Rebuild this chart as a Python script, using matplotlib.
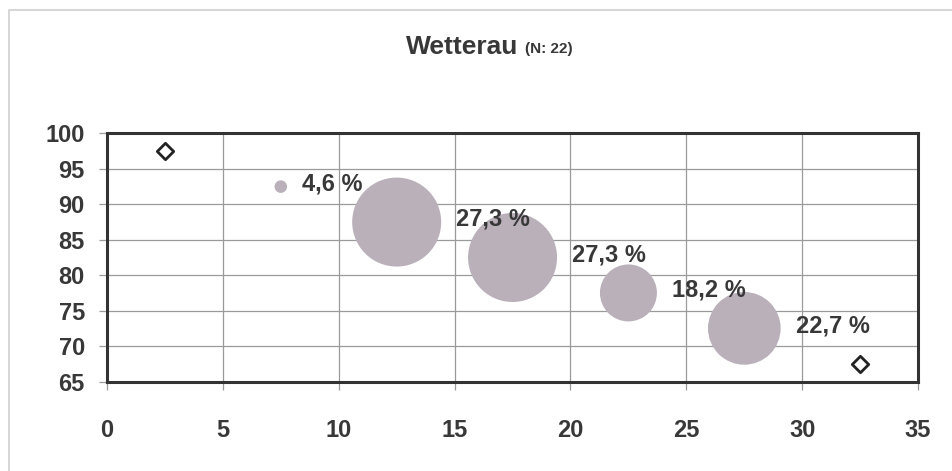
import matplotlib.pyplot as plt
from matplotlib.patches import Rectangle

# bubble series: position and share of municipalities (percent)
bubble_x = [7.5, 12.5, 17.5, 22.5, 27.5]
bubble_y = [92.5, 87.5, 82.5, 77.5, 72.5]
bubble_share = [4.6, 27.3, 27.3, 18.2, 22.7]
bubble_labels = ["4,6 %", "27,3 %", "27,3 %", "18,2 %", "22,7 %"]

# empty end classes shown as open diamonds
diamond_x = [2.5, 32.5]
diamond_y = [97.5, 67.5]

x_ticks = [0, 5, 10, 15, 20, 25, 30, 35]
y_ticks = [65, 70, 75, 80, 85, 90, 95, 100]

plt.rcParams["font.family"] = ["Liberation Sans", "DejaVu Sans"]
text_color = "#383838"

fig = plt.figure(figsize=(9.52, 4.71), dpi=100)
fig.patches.append(Rectangle((0.009, -0.1), 1.2, 1.079, transform=fig.transFigure,
                             fill=False, edgecolor="#d0d0d0", linewidth=1.2))
ax = fig.add_axes([0.1124, 0.19, 0.852, 0.5266])

# bubble diameter in points, roughly proportional to the share (Excel "width" sizing)
diam = [0.72 * 3.26 * v ** 1.1 / 27.3 ** 0.1 for v in bubble_share]
ax.scatter(bubble_x, bubble_y, s=[d ** 2 for d in diam], color="#bab0ba",
           edgecolors="none", zorder=3)
ax.scatter(diamond_x, diamond_y, marker="D", s=70, facecolors="white",
           edgecolors="#222222", linewidths=2.0, zorder=3)

for x, y, d, lab in zip(bubble_x, bubble_y, diam, bubble_labels):
    ax.annotate(lab, (x, y), xytext=(d / 2 + 11, 2), textcoords="offset points",
                ha="left", va="center", fontsize=17, fontweight="bold",
                color=text_color, zorder=4)

ax.set_xlim(0, 35)
ax.set_ylim(65, 100)
ax.set_xticks(x_ticks)
ax.set_yticks(y_ticks)
ax.grid(True, color="#9a9a9a", linewidth=0.9)
ax.set_axisbelow(True)
for spine in ax.spines.values():
    spine.set_linewidth(2.2)
    spine.set_color("#333333")
ax.tick_params(axis="x", length=6, width=0.9, color="#9a9a9a", pad=21,
               labelsize=17, labelcolor=text_color)
ax.tick_params(axis="y", length=6, width=0.9, color="#9a9a9a", pad=10,
               labelsize=17, labelcolor=text_color)
for lab in ax.get_xticklabels() + ax.get_yticklabels():
    lab.set_fontweight("bold")

fig.text(0.545, 0.9, "Wetterau", ha="right", va="center", fontsize=19,
         fontweight="bold", color=text_color)
fig.text(0.551, 0.896, "(N: 22)", ha="left", va="center", fontsize=11,
         fontweight="bold", color=text_color)

fig.savefig("out.png", dpi=100)
